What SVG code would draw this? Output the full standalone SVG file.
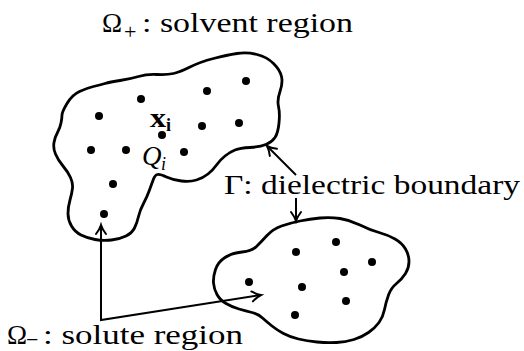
<svg xmlns="http://www.w3.org/2000/svg" width="524" height="351" viewBox="0 0 524 351">
<style>
.blob{fill:none;stroke:#000;stroke-width:2.8;stroke-linejoin:round}
.dot{fill:#000}
.conn{fill:none;stroke:#000;stroke-width:2}
.lbl{font-family:"Liberation Serif",serif;font-size:27px;fill:#000}
.sub{font-family:"Liberation Serif",serif;font-size:22px;fill:#000}
</style>
<defs>
<marker id="arr" markerUnits="userSpaceOnUse" markerWidth="20" markerHeight="20" refX="0" refY="0" orient="auto-start-reverse" overflow="visible">
<path d="M-9,-5 Q-4,-1.2 0,0 Q-4,1.2 -9,5" fill="none" stroke="#000" stroke-width="2" stroke-linecap="round"/>
</marker>
</defs>
<rect width="524" height="351" fill="#fff"/>
<g id="solvent-label">
<text class="lbl" x="102" y="32">Ω</text>
<text class="sub" x="124" y="39">+</text>
<text class="lbl" x="142" y="32" textLength="211" lengthAdjust="spacingAndGlyphs">: solvent region</text>
</g>
<g id="region-big">
<path class="blob" d="M62,115 Q62,112 67,103.5 Q72,95 79.5,91.5 Q87,88 93.5,86.5 Q100,85 105,83.5 Q110,82 120,80.5 Q130,79 138.5,76.5 Q147,74 157,74.5 Q167,75 173.5,73.5 Q180,72 190,67 Q200,62 213.5,58.5 Q227,55 237,53.5 Q247,52 257,54.5 Q267,57 273.5,63.5 Q280,70 281.5,76.5 Q283,83 280,91.5 Q277,100 278.5,106.5 Q280,113 279,123 Q278,133 275,137.5 Q272,142 266,144.5 Q260,147 250,147.5 Q240,148 235,150 Q230,152 225,156 Q220,160 216.5,165 Q213,170 208,174 Q203,178 196.5,180 Q190,182 181.5,181 Q173,180 166.5,177 Q160,174 157.5,174.5 Q155,175 153.5,179 Q152,183 149.5,190 Q147,197 143.5,203.5 Q140,210 138.5,216.5 Q137,223 134.5,228 Q132,233 126,236 Q120,239 111.5,240 Q103,241 95,239.5 Q87,238 81,235 Q75,232 71.5,226 Q68,220 68,213.5 Q68,207 70,200 Q72,193 72.5,188 Q73,183 70.5,177.5 Q68,172 63,166 Q58,160 55.5,154 Q53,148 54,142.5 Q55,137 57.5,132.5 Q60,128 61,123 Q62,118 62,115 Z"/>
<circle class="dot" cx="141" cy="99" r="4"/>
<circle class="dot" cx="207" cy="91" r="4"/>
<circle class="dot" cx="246" cy="81" r="4"/>
<circle class="dot" cx="99" cy="116" r="4"/>
<circle class="dot" cx="202" cy="126" r="4"/>
<circle class="dot" cx="239" cy="123" r="4"/>
<circle class="dot" cx="162" cy="135" r="4"/>
<circle class="dot" cx="91" cy="150" r="4"/>
<circle class="dot" cx="126" cy="150" r="4"/>
<circle class="dot" cx="184" cy="152" r="4"/>
<circle class="dot" cx="113" cy="184" r="4"/>
<circle class="dot" cx="104" cy="214" r="4"/>
<text x="150" y="127" font-family="Liberation Serif, serif" font-weight="bold" font-size="27" textLength="16" lengthAdjust="spacingAndGlyphs">x</text>
<text x="166" y="131" font-family="Liberation Serif, serif" font-weight="bold" font-size="18">i</text>
<text x="142" y="165" font-family="Liberation Serif, serif" font-style="italic" font-size="27">Q</text>
<text x="161" y="170" font-family="Liberation Serif, serif" font-style="italic" font-size="18">i</text>
</g>
<g id="region-small">
<path class="blob" d="M213.5,283 Q213,277 215.5,269.5 Q218,262 225,257.5 Q232,253 242,252 Q252,251 256.5,246.5 Q261,242 267,235.5 Q273,229 281.5,226 Q290,223 300,221 Q310,219 320,218 Q330,217 340,218.5 Q350,220 360,225 Q370,230 379,232.5 Q388,235 395,239 Q402,243 405.5,249 Q409,255 409,261.5 Q409,268 405.5,273.5 Q402,279 396.5,283.5 Q391,288 388.5,295 Q386,302 384.5,309.5 Q383,317 379,322.5 Q375,328 368.5,332.5 Q362,337 354,339.5 Q346,342 336.5,342.5 Q327,343 317,342 Q307,341 298.5,339 Q290,337 283.5,333.5 Q277,330 272,326 Q267,322 262.5,318 Q258,314 252,312.5 Q246,311 239,309 Q232,307 226,303.5 Q220,300 217,294.5 Q214,289 213.5,283 Z"/>
<circle class="dot" cx="296" cy="252" r="4"/>
<circle class="dot" cx="336" cy="242" r="4"/>
<circle class="dot" cx="372" cy="262" r="4"/>
<circle class="dot" cx="344" cy="272" r="4"/>
<circle class="dot" cx="249" cy="282" r="4"/>
<circle class="dot" cx="302" cy="287" r="4"/>
<circle class="dot" cx="346" cy="301" r="4"/>
<circle class="dot" cx="295" cy="315" r="4"/>
</g>
<g id="boundary-label">
<text class="lbl" x="224" y="194" textLength="296" lengthAdjust="spacingAndGlyphs">Γ: dielectric boundary</text>
</g>
<g id="solute-label">
<text class="lbl" x="7" y="344">Ω</text>
<text class="sub" x="26" y="347">−</text>
<text class="lbl" x="43" y="344" textLength="200" lengthAdjust="spacingAndGlyphs">: solute region</text>
</g>
<g id="connectors">
<path class="conn" d="M296,175 L267,146" marker-end="url(#arr)"/>
<path class="conn" d="M296,198 L296,221" marker-end="url(#arr)"/>
<path class="conn" d="M101,225 L101,320 L261,295" marker-start="url(#arr)" marker-end="url(#arr)"/>
</g>
</svg>
